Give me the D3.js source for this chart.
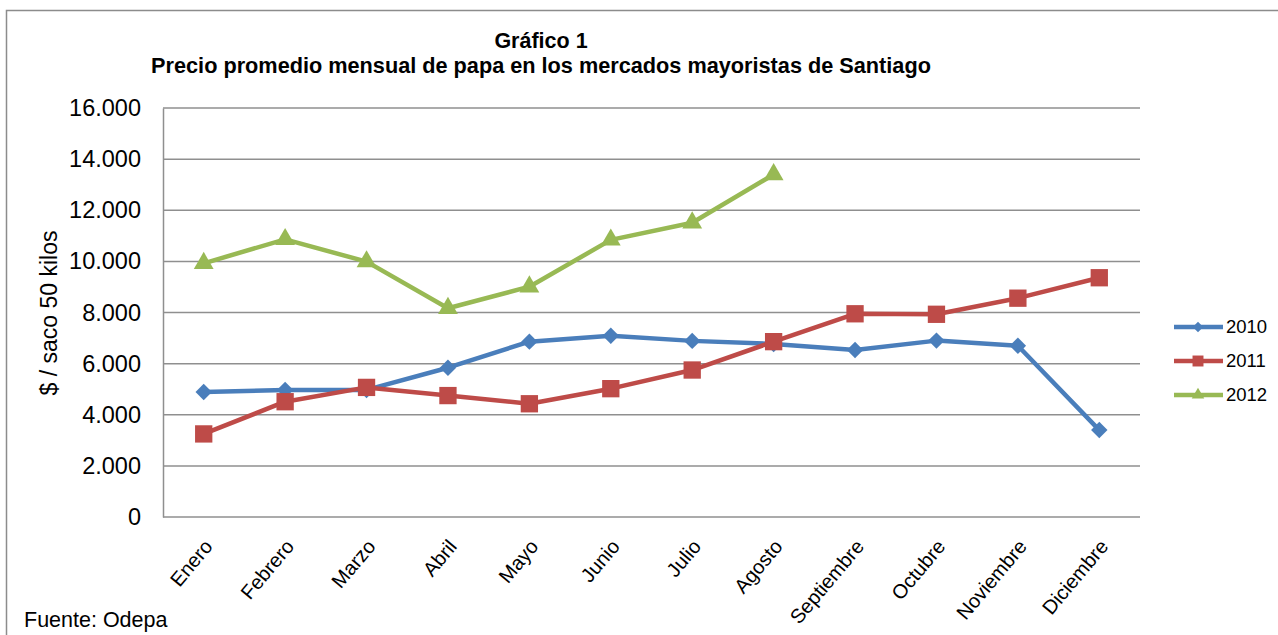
<!DOCTYPE html>
<html>
<head>
<meta charset="utf-8">
<script src="https://cdn.jsdelivr.net/npm/d3@7"></script>
<style>
  body { margin: 0; background: #fff; }
  svg { font-family: "Liberation Sans", Arial, sans-serif; }
</style>
</head>
<body>
<svg id="chart" width="1278" height="635"></svg>
<script>
const months = ['Enero', 'Febrero', 'Marzo', 'Abril', 'Mayo', 'Junio', 'Julio',
  'Agosto', 'Septiembre', 'Octubre', 'Noviembre', 'Diciembre'];
const years = ['2010', '2011', '2012'];
const values2010 = [4890, 4970, 4970, 5840, 6860, 7090, 6890, 6770, 6530, 6900, 6700, 3400];
const values2011 = [3250, 4510, 5070, 4750, 4430, 5020, 5750, 6860, 7950, 7930, 8560, 9360];
const values2012 = [9925, 10860, 9990, 8165, 9010, 10840, 11510, 13400];
const yTicks = [0, 2000, 4000, 6000, 8000, 10000, 12000, 14000, 16000];

const series = [
  { name: years[0], values: values2010, color: '#4A7EBB', marker: 'diamond' },
  { name: years[1], values: values2011, color: '#BE4B48', marker: 'square' },
  { name: years[2], values: values2012, color: '#98B954', marker: 'triangle' }
];

const svg = d3.select('#chart');
const plotLeft = 163, plotRight = 1140, plotTop = 108, plotBottom = 517;

const x = d3.scaleBand().domain(months).range([plotLeft, plotRight]);
const y = d3.scaleLinear().domain([0, 16000]).range([plotBottom, plotTop]);
const fmt = v => d3.format(',')(v).replace(/,/g, '.');

// outer frame
svg.append('rect')
  .attr('x', 6.5).attr('y', 10.5).attr('width', 1290).attr('height', 640)
  .attr('fill', 'none').attr('stroke', '#8c8c8c').attr('stroke-width', 1.5);

// titles
svg.append('text').attr('x', 541).attr('y', 48).attr('text-anchor', 'middle')
  .attr('font-weight', 'bold').attr('font-size', 21.5).text('Gráfico 1');
svg.append('text').attr('x', 541).attr('y', 73).attr('text-anchor', 'middle')
  .attr('font-weight', 'bold').attr('font-size', 21.7)
  .text('Precio promedio mensual de papa en los mercados mayoristas de Santiago');

// gridlines
svg.append('g')
  .selectAll('line')
  .data(yTicks)
  .join('line')
  .attr('x1', plotLeft).attr('x2', plotRight)
  .attr('y1', d => y(d)).attr('y2', d => y(d))
  .attr('stroke', '#8f8f8f').attr('stroke-width', 1.5);

// y axis
const yAxis = svg.append('g')
  .attr('transform', `translate(${plotLeft},0)`)
  .call(d3.axisLeft(y).tickValues(yTicks).tickFormat(fmt).tickSize(0).tickPadding(22));
yAxis.select('.domain').attr('stroke', '#8f8f8f').attr('stroke-width', 1.5);
yAxis.selectAll('text').attr('font-size', 23.5).attr('fill', '#000')
  .attr('font-family', '"Liberation Sans", Arial, sans-serif');

// x axis
const xAxis = svg.append('g')
  .attr('transform', `translate(0,${plotBottom})`)
  .call(d3.axisBottom(x).tickSize(0).tickPadding(0));
xAxis.select('.domain').remove();
xAxis.selectAll('text')
  .attr('font-size', 20).attr('fill', '#000')
  .attr('font-family', '"Liberation Sans", Arial, sans-serif')
  .attr('text-anchor', 'end')
  .attr('dy', null).attr('y', 0)
  .attr('transform', 'translate(10,30) rotate(-50)');

// y axis title
svg.append('text')
  .attr('transform', 'translate(57,313) rotate(-90)')
  .attr('text-anchor', 'middle').attr('font-size', 23)
  .text('$ / saco 50 kilos');

// source
svg.append('text').attr('x', 24).attr('y', 627).attr('font-size', 21.5).text('Fuente: Odepa');

const cx = (d, i) => x(months[i]) + x.bandwidth() / 2;
const line = d3.line().x(cx).y(d => y(d));

const symbolType = { diamond: d3.symbolSquare, square: d3.symbolSquare, triangle: d3.symbolTriangle };
const symbolSize = { diamond: 135, square: 300, triangle: 170 };
const symbolRot = { diamond: 45, square: 0, triangle: 0 };

series.forEach(s => {
  const g = svg.append('g');
  g.append('path').attr('d', line(s.values))
    .attr('fill', 'none').attr('stroke', s.color).attr('stroke-width', 4.5)
    .attr('stroke-linejoin', 'round');
  g.selectAll('path.m')
    .data(s.values)
    .join('path')
    .attr('class', 'm')
    .attr('d', d3.symbol().type(symbolType[s.marker]).size(symbolSize[s.marker]))
    .attr('transform', (d, i) => `translate(${cx(d, i)},${y(d)}) rotate(${symbolRot[s.marker]})`)
    .attr('fill', s.color);
});

// legend
const legend = svg.append('g');
series.forEach((s, i) => {
  const ly = 327 + i * 34;
  legend.append('line').attr('x1', 1174).attr('x2', 1223).attr('y1', ly).attr('y2', ly)
    .attr('stroke', s.color).attr('stroke-width', 4.5);
  legend.append('path')
    .attr('d', d3.symbol().type(symbolType[s.marker]).size(symbolSize[s.marker] * 0.4))
    .attr('transform', `translate(1198,${ly}) rotate(${symbolRot[s.marker]})`).attr('fill', s.color);
  legend.append('text').attr('x', 1226).attr('y', ly).attr('dy', '0.35em')
    .attr('font-size', 18.5).text(s.name);
});
</script>
</body>
</html>
